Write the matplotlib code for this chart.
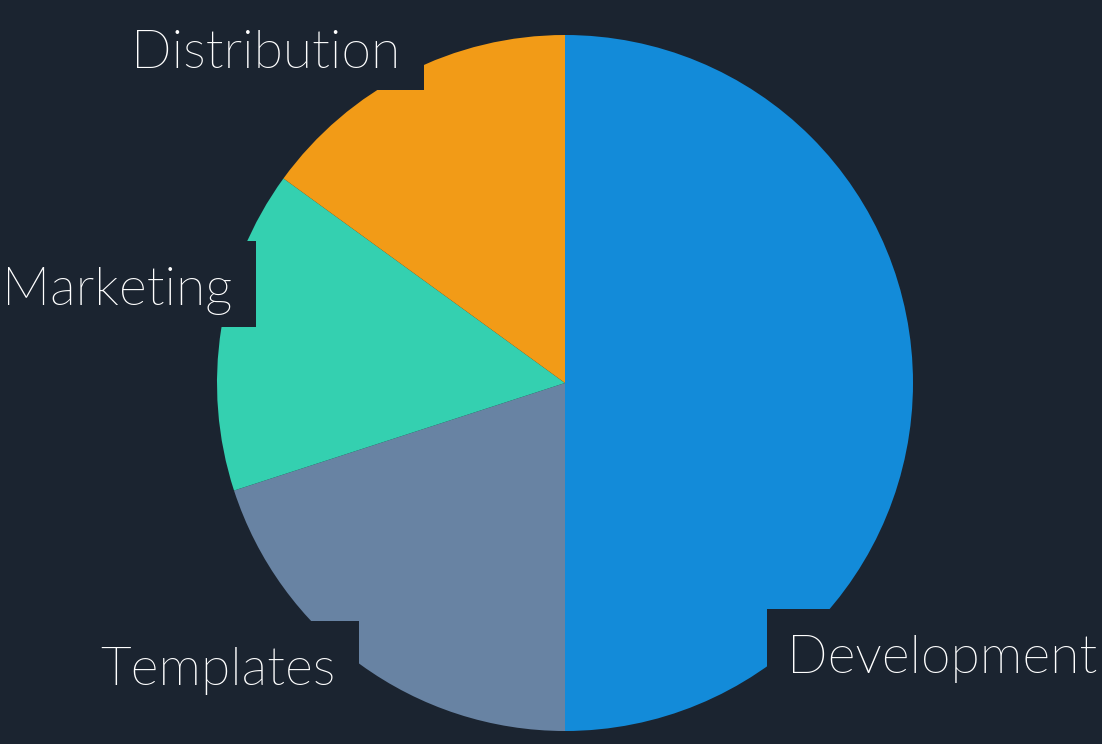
import matplotlib.pyplot as plt
from matplotlib import font_manager as fm
from matplotlib.patches import Rectangle

# slice data, clockwise from 12 o'clock
labels = ["Development", "Templates", "Marketing", "Distribution"]
values = [50, 20, 15, 15]
colors = ["#138bd9", "#6883a3", "#34d0b0", "#f29b17"]

# label anchor (left edge, baseline) in pixel coords from the top-left
label_x = [787, 100, 2, 131]
label_y = [673, 685, 305, 68]

bg = "#1b2430"
W, H = 1102, 744

# thin Lato cut, fall back to Light if the file isn't there
lato = [f.fname for f in fm.fontManager.ttflist if f.fname.endswith("Lato-ExtraLight.ttf")]
if lato:
    font = fm.FontProperties(fname=lato[0], size=38.5)
else:
    font = fm.FontProperties(family="Lato", weight=300, size=38.5)

fig = plt.figure(figsize=(W / 100, H / 100), dpi=100, facecolor=bg)
ax = fig.add_axes([0, 0, 1, 1])
ax.set_facecolor(bg)

ax.pie(values, colors=colors, startangle=90, counterclock=False,
       center=(565, H - 383), radius=348,
       wedgeprops=dict(linewidth=0))

ax.set_xlim(0, W)
ax.set_ylim(0, H)
ax.set_aspect("equal")
ax.axis("off")

texts = []
for lab, x, y in zip(labels, label_x, label_y):
    t = ax.text(x, H - y, lab, ha="left", va="baseline", color="white",
                fontproperties=font, zorder=5)
    texts.append(t)

# dark label backgrounds that cut into the pie (line-box style padding)
fig.canvas.draw()
r = fig.canvas.get_renderer()
inv = ax.transData.inverted()
for t, y in zip(texts, label_y):
    bb = t.get_window_extent(r)
    (x0, _), (x1, _) = inv.transform([(bb.x0, bb.y0), (bb.x1, bb.y1)])
    base = H - y
    ax.add_patch(Rectangle((x0 - 20, base - 22), (x1 - x0) + 44, 86,
                           facecolor=bg, edgecolor="none", zorder=4))

fig.savefig("out.png", dpi=100, facecolor=bg)
